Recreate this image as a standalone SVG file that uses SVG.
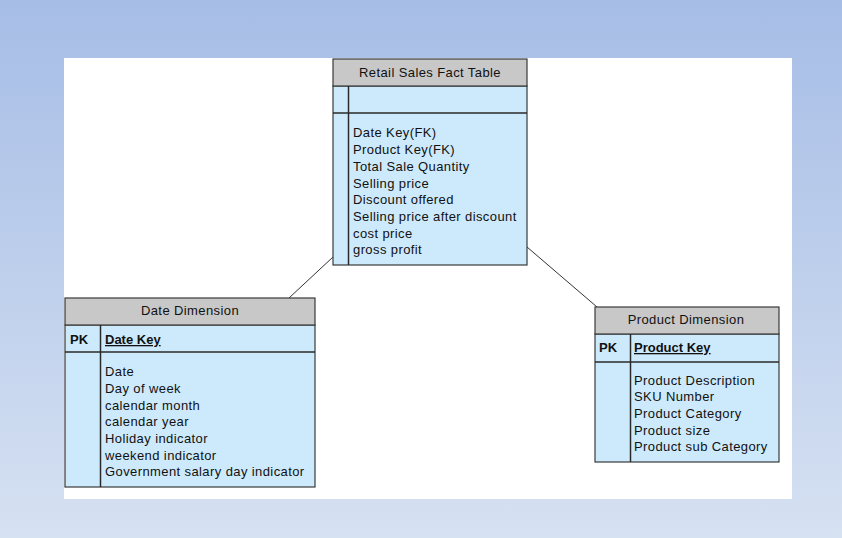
<svg xmlns="http://www.w3.org/2000/svg" width="842" height="538" viewBox="0 0 842 538">
<defs>
<linearGradient id="bg" x1="0" y1="0" x2="0" y2="1">
<stop offset="0" stop-color="#a6bde6"/>
<stop offset="1" stop-color="#d6e1f2"/>
</linearGradient>
<style>
.hdr{fill:#c8c8c8;stroke:#3a3a3a;stroke-width:1.2}
.cell{fill:#cdeafc;stroke:#3a3a3a;stroke-width:1.2}
.div{stroke:#2a2a2a;stroke-width:1.5}
text{font-family:"Liberation Sans",Arial,sans-serif;font-size:13px;fill:#111;letter-spacing:0.4px}
.t{text-anchor:middle}
.b{font-weight:bold;letter-spacing:0}
.u{font-weight:bold;text-decoration:underline;letter-spacing:0}
.conn{stroke:#333;stroke-width:1;fill:none}
.mark{stroke:#f4f4f4;stroke-width:1;fill:none}
</style>
</defs>
<rect x="0" y="0" width="842" height="538" fill="url(#bg)"/>
<rect x="64" y="58" width="728" height="441" fill="#ffffff"/>
<g id="connectors">
<line class="conn" x1="333" y1="257" x2="289" y2="298"/>
<line class="conn" x1="527" y1="247" x2="597" y2="307"/>
<line class="mark" x1="300" y1="313" x2="313" y2="300"/>
<line class="mark" x1="598" y1="309" x2="608" y2="318"/>
</g>
<g id="fact">
<rect class="cell" x="333" y="86" width="194" height="179"/>
<rect class="hdr" x="333" y="59" width="194" height="27"/>
<line class="div" x1="333" y1="113" x2="527" y2="113"/>
<line class="div" x1="348.5" y1="86" x2="348.5" y2="265"/>
<text class="t" x="430" y="77">Retail Sales Fact Table</text>
<text x="353" y="137">Date Key(FK)</text>
<text x="353" y="154">Product Key(FK)</text>
<text x="353" y="171">Total Sale Quantity</text>
<text x="353" y="188">Selling price</text>
<text x="353" y="204">Discount offered</text>
<text x="353" y="221">Selling price after discount</text>
<text x="353" y="238">cost price</text>
<text x="353" y="254">gross profit</text>
</g>
<g id="date">
<rect class="cell" x="65" y="325" width="250" height="162"/>
<rect class="hdr" x="65" y="298" width="250" height="27"/>
<line class="div" x1="65" y1="352" x2="315" y2="352"/>
<line class="div" x1="100.5" y1="325" x2="100.5" y2="487"/>
<text class="t" x="190" y="315">Date Dimension</text>
<text class="b" x="70" y="344">PK</text>
<text class="u" x="105" y="344">Date Key</text>
<text x="105" y="376">Date</text>
<text x="105" y="393">Day of week</text>
<text x="105" y="410">calendar month</text>
<text x="105" y="426">calendar year</text>
<text x="105" y="443">Holiday indicator</text>
<text x="105" y="460">weekend indicator</text>
<text x="105" y="476">Government salary day indicator</text>
</g>
<g id="product">
<rect class="cell" x="595" y="334" width="184" height="128"/>
<rect class="hdr" x="595" y="307" width="184" height="27"/>
<line class="div" x1="595" y1="362" x2="779" y2="362"/>
<line class="div" x1="630.5" y1="334" x2="630.5" y2="462"/>
<text class="t" x="686" y="324">Product Dimension</text>
<text class="b" x="599" y="352">PK</text>
<text class="u" x="634" y="352">Product Key</text>
<text x="634" y="385">Product Description</text>
<text x="634" y="401">SKU Number</text>
<text x="634" y="418">Product Category</text>
<text x="634" y="435">Product size</text>
<text x="634" y="451">Product sub Category</text>
</g>
</svg>
